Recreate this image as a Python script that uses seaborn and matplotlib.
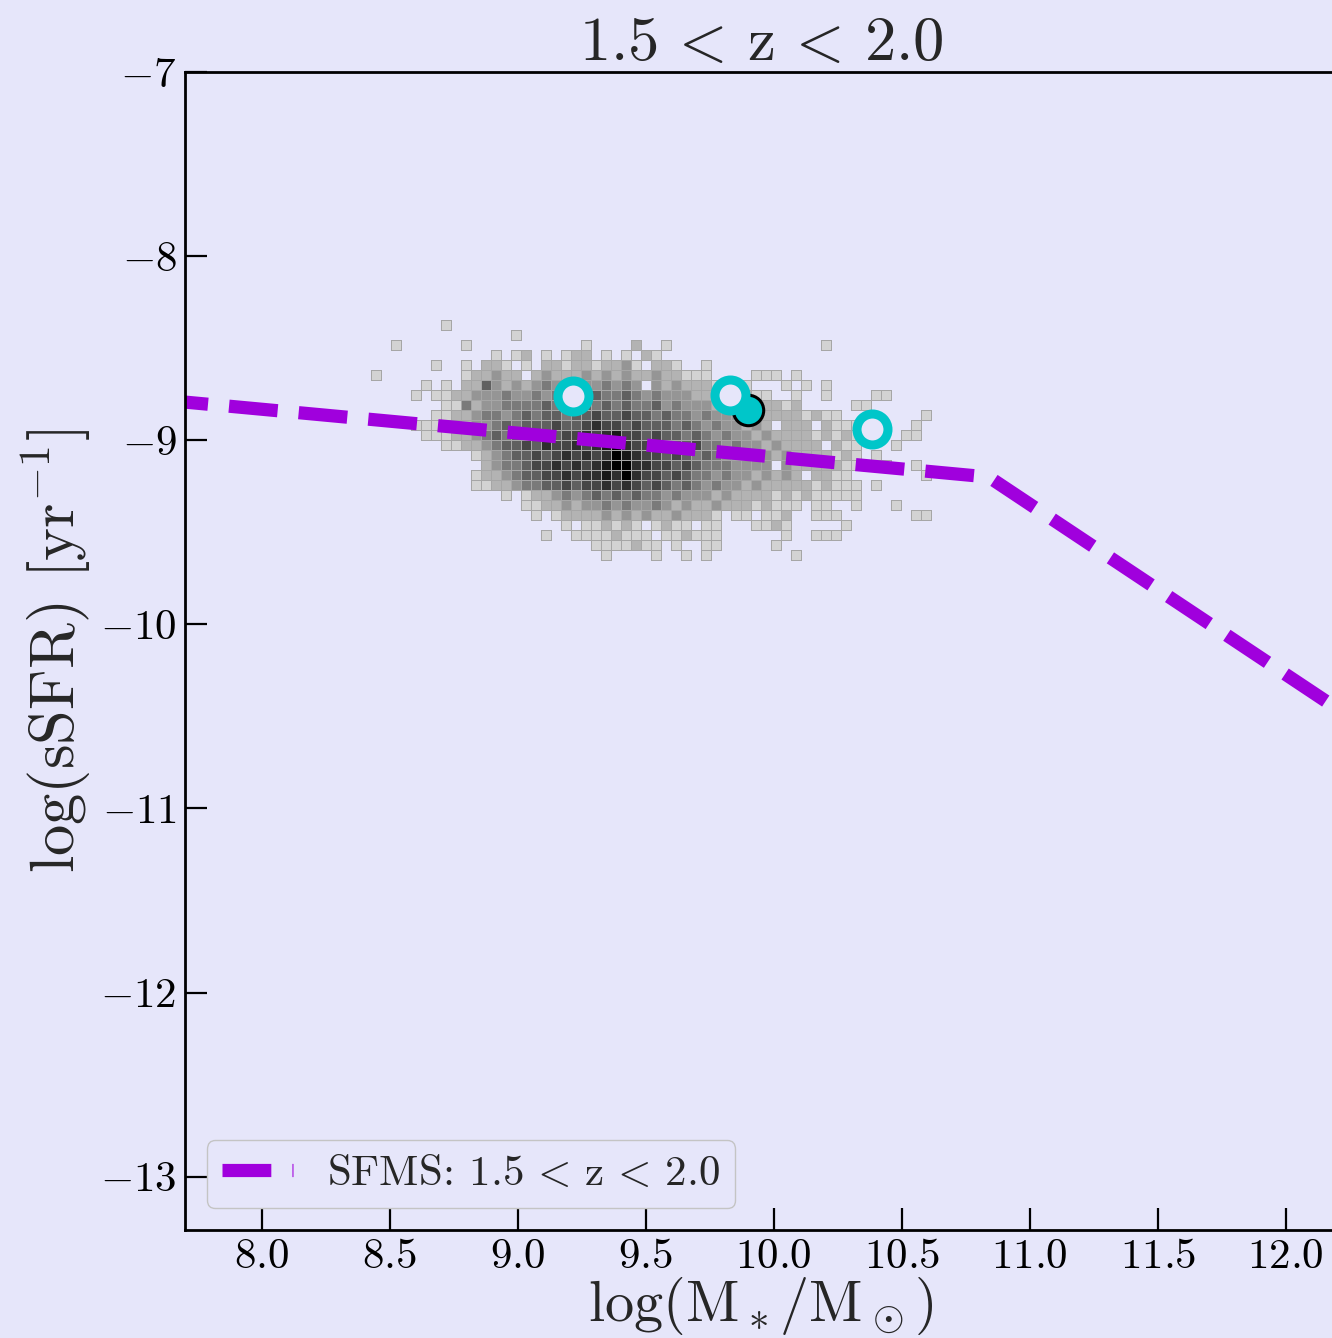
import numpy as np
import pandas as pd
import matplotlib
matplotlib.use("Agg")
import matplotlib.pyplot as plt
from matplotlib.colors import PowerNorm, to_rgba
import seaborn as sns

# ---- data -----------------------------------------------------------------
# Galaxy sample binned in (log M*, log sSFR): one string per row of bins,
# top row first, one character per bin column ('|' every ten columns for
# readability).  '.' = empty bin, 1-9 = shade level of the bin.
hist_rows = [
    ".......1..",
    "..........|....1.....",
    "..1......1|..........|.1....2..1|..........|.....1....",
    "..........|..1.12.1.1|22.1.1.21.",
    "......1..1|.221.1.221|2212231.22|1..1",
    "1........1|22322.2322|2323232232|2111....11|1.1",
    ".....1.1.2|2532323433|3334343.32|32221111..|.1.1.1",
    "....1.1122|3334334343|4454454343|3322222211|..1..1....|11",
    ".......114|2334444544|4545454453|4333232222|212.....11",
    "......1122|3443454554|5565565545|4434333322|2221211...|.....1",
    "....111222|3345455565|5676656555|4543433232|.222.2111.|....1",
    ".....11122|3454565656|6767866565|5454343323|222212121.|...11",
    ".......112|2345565766|7678976656|5564434332|32222.211.|..1",
    "..........|1234556567|6767987665|6545433343|232222121.|1",
    "..........|.234456676|7678997766|5654443333|.32222211.|.1..1",
    "..........|1223455667|6778797665|6544343323|232.2211..|.....1",
    "..........|1122344556|5667676565|4543433232|222212111.|1",
    "..........|...1.12234|3454545443|4333232222|121211111",
    "..........|.....11223|2334343343|2322322212|111.11..1.|..1",
    "..........|......1.12|2223232322|32221.11.1|12..111...|....11",
    "..........|.........1|.112121.12|11.11...11|21.....1",
    "..........|.......1..|11112111.1|12111.....|.1..111",
    "..........|..........|..1111211.|1..11.....|1",
    "..........|..........|...1....1.|.1.1......|..1",
]

# Bin grid of the histogram
bin_x0 = 8.4258        # left edge of the first column
bin_y_top = -8.3478    # top edge of the first row
bin_dx = 0.0390625
bin_dy = 0.05435

# Star-forming main sequence, 1.5 < z < 2.0
sfms_logm = [7.6, 10.84, 12.3]
sfms_logssfr = [-8.78, -9.20, -10.55]

# Highlighted objects
ring_logm = [9.215, 9.828, 10.383]
ring_logssfr = [-8.761, -8.755, -8.940]
filled_logm = [9.898]
filled_logssfr = [-8.837]

x_ticks = [8.0, 8.5, 9.0, 9.5, 10.0, 10.5, 11.0, 11.5, 12.0]
y_ticks = [-13, -12, -11, -10, -9, -8, -7]

BG = "#E6E6FA"
SFMS_COLOR = "#A000DD"
CYAN = "#00C6C9"
CELL_EDGE = "#a6a6a6"

Z_RANGE = r"1.5$\,<\,$z$\,<\,$2.0"

# ---- style ----------------------------------------------------------------
sns.set_theme(style="ticks")
plt.rcParams.update({
    "font.family": "serif",
    "font.serif": ["cmr10"],
    "mathtext.fontset": "cm",
    "axes.formatter.use_mathtext": True,
    "axes.unicode_minus": True,
    "figure.facecolor": BG,
    "axes.facecolor": BG,
    "axes.edgecolor": "black",
    "axes.linewidth": 2.0,
})

# ---- histogram cells ------------------------------------------------------
records = []
for r, row in enumerate(hist_rows):
    row = row.replace("|", "")
    for c, ch in enumerate(row):
        if ch != ".":
            records.append((bin_x0 + (c + 0.5) * bin_dx,
                            bin_y_top - (r + 0.5) * bin_dy,
                            int(ch)))
cells = pd.DataFrame(records, columns=["logm", "logssfr", "level"])
ncol = max(len(r.replace("|", "")) for r in hist_rows)
nrow = len(hist_rows)

fig = plt.figure(figsize=(13.32, 13.38), dpi=100, facecolor=BG)
ax = fig.add_axes([0.13889, 0.08072, 0.86486, 0.86547])
ax.set_facecolor(BG)

sns.histplot(
    data=cells, x="logm", y="logssfr", weights="level",
    binwidth=(bin_dx, bin_dy),
    binrange=((bin_x0, bin_x0 + ncol * bin_dx),
              (bin_y_top - nrow * bin_dy, bin_y_top)),
    cmap="gray_r", vmin=0.0, vmax=9.0,
    linewidth=0.7, zorder=1, ax=ax,
)
mesh = ax.collections[-1]
# slightly compressed grey scale for the bin shading
mesh.set_norm(PowerNorm(gamma=0.8, vmin=0.0, vmax=9.0))
# outline only the occupied bins
empty = np.ma.getmaskarray(mesh.get_array()).ravel()
edge_rgba = np.tile(to_rgba(CELL_EDGE), (empty.size, 1))
edge_rgba[empty] = (0, 0, 0, 0)
mesh.set_edgecolor(edge_rgba)

sns.lineplot(
    x=sfms_logm, y=sfms_logssfr, color=SFMS_COLOR, linewidth=9.5,
    linestyle="--", label="SFMS: " + Z_RANGE, zorder=2,
    legend=False, ax=ax,
)

sns.scatterplot(
    x=filled_logm, y=filled_logssfr, s=480, color=CYAN,
    edgecolor="black", linewidth=2.2, zorder=3, legend=False, ax=ax,
)
sns.scatterplot(
    x=ring_logm, y=ring_logssfr, s=497, facecolor=BG,
    edgecolor=CYAN, linewidth=6.5, zorder=4, legend=False, ax=ax,
)

# ---- axes -----------------------------------------------------------------
ax.set_xlim(7.7, 12.2)
ax.set_ylim(-13.29, -7.0)
ax.set_xticks(x_ticks)
ax.set_yticks(y_ticks)
ax.tick_params(axis="both", which="major", direction="in", length=16,
               width=1.6, labelsize=31, pad=6, top=False, right=False,
               colors="black")
ax.spines["right"].set_visible(False)
for side in ("left", "top", "bottom"):
    ax.spines[side].set_linewidth(2.0)
    ax.spines[side].set_color("black")

ax.set_title(Z_RANGE, fontsize=45, pad=8)
ax.set_xlabel(r"log(M$_*$/M$_\odot$)", fontsize=42)
ax.xaxis.set_label_coords(0.5, -0.0385)
ax.set_ylabel(r"log(sSFR) [yr$^{-1}$]", fontsize=45, labelpad=5)

leg = ax.legend(loc="lower left", fontsize=31, frameon=True, fancybox=True,
                facecolor=BG, edgecolor="#c4c4c4", framealpha=1.0,
                handlelength=1.65, borderpad=0.35)
leg.get_frame().set_linewidth(1.0)

fig.savefig("out.png", dpi=100, facecolor=BG)
